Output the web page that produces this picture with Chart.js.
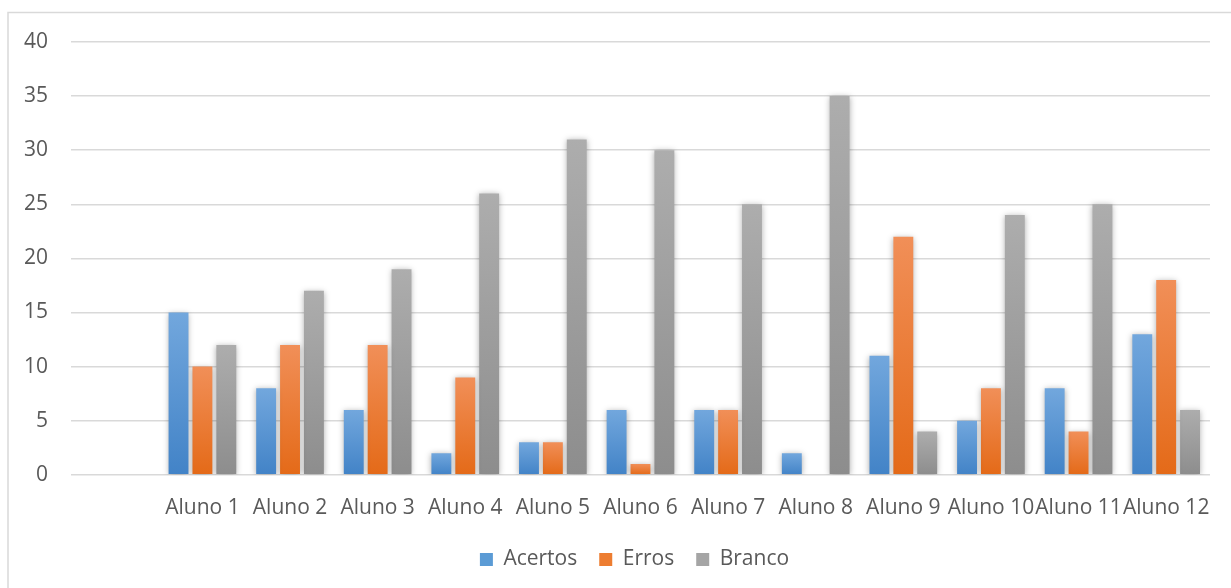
<!DOCTYPE html>
<html>
<head>
<meta charset="utf-8">
<title>Acertos, Erros e Branco por aluno</title>
<script src="https://cdn.jsdelivr.net/npm/chart.js@4.4.1/dist/chart.umd.min.js"></script>
<style>
  html, body { margin: 0; padding: 0; background: #ffffff; }
  #wrap { width: 1231px; height: 588px; position: relative; }
</style>
</head>
<body>
<div id="wrap"><canvas id="c" width="1231" height="588"></canvas></div>
<script>
// Categories (the first slot is an empty row of the source table)
const categories = ['', 'Aluno 1', 'Aluno 2', 'Aluno 3', 'Aluno 4', 'Aluno 5', 'Aluno 6',
                    'Aluno 7', 'Aluno 8', 'Aluno 9', 'Aluno 10', 'Aluno 11', 'Aluno 12'];
const acertos = [null, 15, 8, 6, 2, 3, 6, 6, 2, 11, 5, 8, 13];
const erros   = [null, 10, 12, 12, 9, 3, 1, 6, 0, 22, 8, 4, 18];
const branco  = [null, 12, 17, 19, 26, 31, 30, 25, 35, 4, 24, 25, 6];
const yMax = 40;
const yStep = 5;

const FONT = "'Open Sans', 'Liberation Sans', sans-serif";
const FONT_SIZE = 21;
const TEXT = '#595959';
const GRID = '#d9d9d9';

// Vertical gradient per bar: lighter at the top, deeper at the base
function barFill(top, bottom, flat) {
  return (ctx) => {
    if (ctx.type !== 'data') return flat;
    const chart = ctx.chart;
    const y = chart.scales && chart.scales.y;
    const v = ctx.raw;
    if (!y || v == null) return flat;
    const y0 = y.getPixelForValue(0);
    const y1 = y.getPixelForValue(v);
    if (!isFinite(y0) || !isFinite(y1) || y0 === y1) return flat;
    const g = chart.ctx.createLinearGradient(0, y1, 0, y0);
    g.addColorStop(0, top);
    g.addColorStop(1, bottom);
    return g;
  };
}

// Soft shadow around the bars
const barShadow = {
  id: 'barShadow',
  beforeDatasetsDraw(chart) {
    const c = chart.ctx;
    c.save();
    c.shadowColor = 'rgba(0,0,0,0.32)';
    c.shadowBlur = 6;
    c.shadowOffsetX = 0;
    c.shadowOffsetY = 1;
  },
  afterDatasetsDraw(chart) {
    chart.ctx.restore();
  }
};

// Thin frame around the chart
const frame = {
  id: 'frame',
  beforeDraw(chart) {
    const c = chart.ctx;
    c.save();
    c.strokeStyle = GRID;
    c.lineWidth = 1.5;
    c.beginPath();
    c.moveTo(8, chart.height);
    c.lineTo(8, 12.5);
    c.lineTo(chart.width, 12.5);
    c.stroke();
    c.restore();
  }
};

// The legend is centred on the whole frame, not on the plot area
const legendShift = {
  id: 'legendShift',
  afterLayout(chart) {
    const lg = chart.legend;
    if (lg) { lg.left += 27; lg.right += 27; }
  }
};

new Chart(document.getElementById('c'), {
  type: 'bar',
  data: {
    labels: categories,
    datasets: [
      { label: 'Acertos', data: acertos,
        backgroundColor: barFill('#72a7dd', '#4283c7', '#5b9bd5') },
      { label: 'Erros', data: erros,
        backgroundColor: barFill('#f18f58', '#e46a18', '#ed7d31') },
      { label: 'Branco', data: branco,
        backgroundColor: barFill('#adadad', '#8d8d8d', '#a5a5a5') }
    ]
  },
  options: {
    responsive: false,
    animation: false,
    devicePixelRatio: 1,
    categoryPercentage: 0.818,
    barPercentage: 0.833,
    layout: { padding: { left: 0, right: 16, top: 42, bottom: 8 } },
    plugins: {
      legend: {
        position: 'bottom',
        labels: {
          color: TEXT,
          font: { family: FONT, size: FONT_SIZE },
          boxWidth: 13,
          boxHeight: 13,
          padding: 22
        }
      },
      tooltip: { enabled: false }
    },
    scales: {
      x: {
        afterFit(scale) { scale.height -= 15; },
        grid: { display: false, drawTicks: false },
        border: { display: false },
        ticks: {
          color: TEXT,
          font: { family: FONT, size: FONT_SIZE },
          padding: 21,
          maxRotation: 0,
          autoSkip: false
        }
      },
      y: {
        min: 0,
        max: yMax,
        afterFit(scale) { scale.width = 71; },
        grid: { color: GRID, lineWidth: 1.5, drawTicks: false },
        border: { display: false },
        ticks: {
          stepSize: yStep,
          color: TEXT,
          font: { family: FONT, size: FONT_SIZE },
          padding: 23
        }
      }
    }
  },
  plugins: [frame, barShadow, legendShift]
});
</script>
</body>
</html>
